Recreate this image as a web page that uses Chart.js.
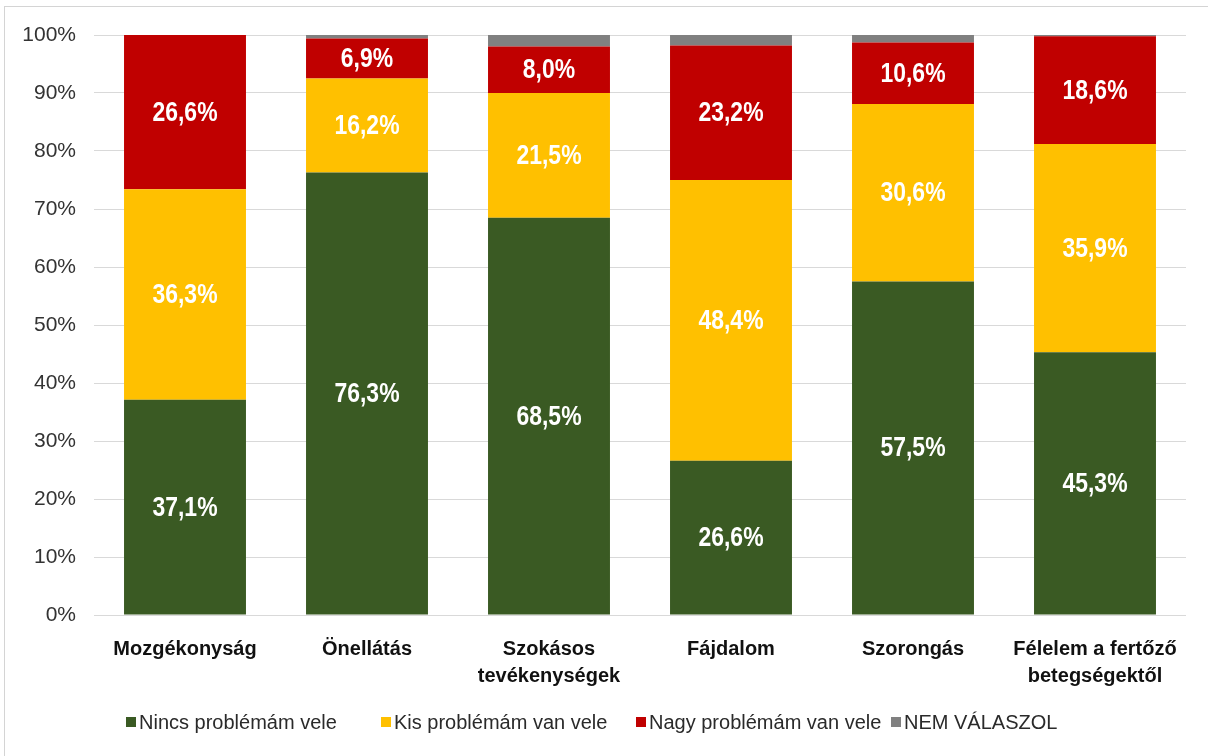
<!DOCTYPE html>
<html>
<head>
<meta charset="utf-8">
<script src="https://cdn.jsdelivr.net/npm/chart.js@4.4.0/dist/chart.umd.min.js"></script>
<style>
  html, body { margin: 0; padding: 0; background: #fff; }
  #frame {
    position: absolute; left: 4px; top: 6px; width: 1230px; height: 780px;
    border: 1px solid #d4d4d4; box-sizing: border-box;
  }
  #wrap { position: absolute; left: 0; top: 0; width: 1208px; height: 756px; }
</style>
</head>
<body>
<div id="frame"></div>
<div id="wrap"><canvas id="myChart" width="1208" height="756"></canvas></div>
<script>
const categories = [
    'Mozgékonyság',
    'Önellátás',
    ['Szokásos', 'tevékenységek'],
    'Fájdalom',
    'Szorongás',
    ['Félelem a fertőző', 'betegségektől']
];
const nincs = [37.1, 76.3, 68.5, 26.6, 57.5, 45.3];
const kis = [36.3, 16.2, 21.5, 48.4, 30.6, 35.9];
const nagy = [26.6, 6.9, 8.0, 23.2, 10.6, 18.6];
const nemValaszol = [0.0, 0.6, 2.0, 1.8, 1.3, 0.2];
const yTicks = [0, 10, 20, 30, 40, 50, 60, 70, 80, 90, 100];

const sans = "'Liberation Sans', Arial, sans-serif";

// white value labels in the middle of each segment (grey segment has none),
// squeezed horizontally to get the narrow look
const segmentLabels = {
    id: 'segmentLabels',
    afterDatasetsDraw(chart) {
        const ctx = chart.ctx;
        chart.data.datasets.forEach((ds, i) => {
            if (!ds.showValue) return;
            chart.getDatasetMeta(i).data.forEach((bar, j) => {
                const v = ds.data[j];
                const mid = (bar.y + bar.base) / 2;
                ctx.save();
                ctx.translate(bar.x, mid + 1);
                ctx.scale(0.85, 1);
                ctx.font = 'bold 27px ' + sans;
                ctx.fillStyle = '#fff';
                ctx.textAlign = 'center';
                ctx.textBaseline = 'middle';
                ctx.fillText(v.toFixed(1).replace('.', ',') + '%', 0, 0);
                ctx.restore();
            });
        });
    }
};

// one-row legend under the axis labels, every entry gets the same slot width
const bottomLegend = {
    id: 'bottomLegend',
    afterDraw(chart) {
        const ctx = chart.ctx;
        const y = 722;
        const slot = 255;
        ctx.save();
        ctx.font = '20px ' + sans;
        ctx.textBaseline = 'middle';
        const x0 = chart.chartArea.left + 32;
        chart.data.datasets.forEach((ds, i) => {
            const x = x0 + i * slot;
            ctx.fillStyle = ds.backgroundColor;
            ctx.fillRect(x, y - 5, 10, 10);
            ctx.fillStyle = '#2a2a2a';
            ctx.fillText(ds.label, x + 13, y + 1);
        });
        ctx.restore();
    }
};

const graphData = {
    type: 'bar',
    data: {
        labels: categories,
        datasets: [
            { label: 'Nincs problémám vele', data: nincs, backgroundColor: '#3a5a23', showValue: true },
            { label: 'Kis problémám van vele', data: kis, backgroundColor: '#ffc000', showValue: true },
            { label: 'Nagy problémám van vele', data: nagy, backgroundColor: '#c00000', showValue: true },
            { label: 'NEM VÁLASZOL', data: nemValaszol, backgroundColor: '#808080', showValue: false }
        ]
    },
    options: {
        responsive: false,
        animation: false,
        layout: { padding: { top: 35, right: 22, bottom: 65, left: 8 } },
        datasets: { bar: { categoryPercentage: 1, barPercentage: 0.67 } },
        plugins: {
            tooltip: { enabled: false },
            legend: { display: false }
        },
        scales: {
            x: {
                stacked: true,
                grid: { display: false },
                border: { display: false },
                ticks: {
                    color: '#111', maxRotation: 0, autoSkip: false, padding: 13,
                    font: { family: sans, size: 20, weight: 'bold', lineHeight: 1.35 }
                },
                afterFit(scale) { scale.height = 76; }
            },
            y: {
                stacked: true,
                min: 0, max: 100,
                afterBuildTicks(scale) { scale.ticks = yTicks.map(v => ({ value: v })); },
                grid: { color: '#d9d9d9', lineWidth: 1, drawTicks: false },
                border: { display: false },
                ticks: {
                    color: '#333', padding: 18,
                    font: { family: sans, size: 21 },
                    callback: v => v + '%'
                },
                afterFit(scale) { scale.width = 86; }
            }
        }
    },
    plugins: [segmentLabels, bottomLegend]
};

const ctx = document.getElementById('myChart').getContext('2d');
const myChart = new Chart(ctx, graphData);
</script>
</body>
</html>
